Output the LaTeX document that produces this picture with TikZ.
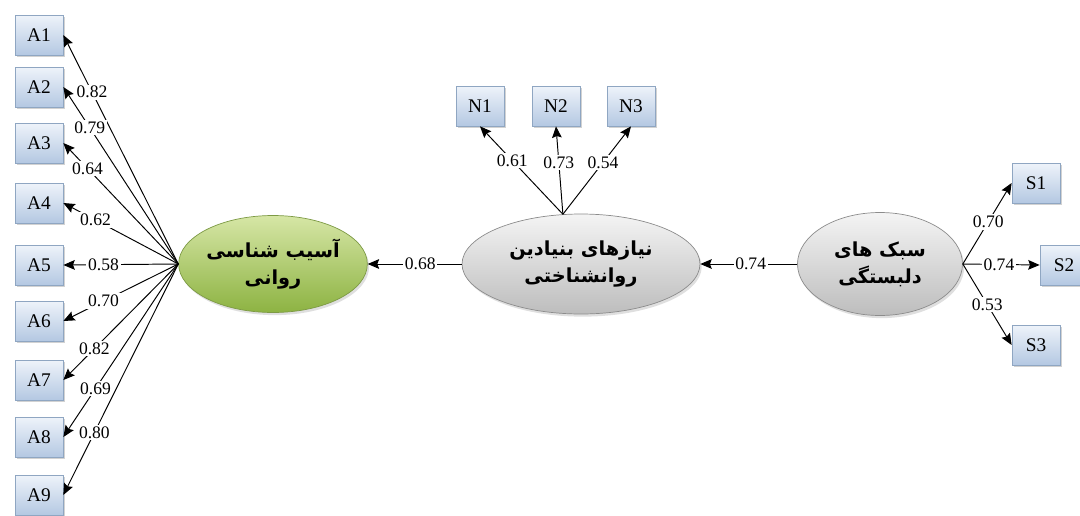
\documentclass[tikz,border=0pt]{standalone}
\usepackage{fontspec}
\setmainfont{Liberation Serif}
\newfontfamily\arabicfont[Script=Arabic]{DejaVu Sans}
\TeXXeTstate=1
\usepackage{tikz}
\usetikzlibrary{shapes.geometric,arrows.meta,shadows}

\definecolor{boxtop}{HTML}{EEF3FA}
\definecolor{boxbot}{HTML}{B4C8E2}
\definecolor{boxline}{HTML}{8FA6C2}
\definecolor{greentop}{HTML}{D6E6A6}
\definecolor{greenbot}{HTML}{8DB342}
\definecolor{greenline}{HTML}{7D9A45}
\definecolor{graytop}{HTML}{F4F4F4}
\definecolor{graybot}{HTML}{BDBDBD}

\tikzset{
  indbox/.style={rectangle, draw=boxline, line width=0.4pt, top color=boxtop, bottom color=boxbot,
    minimum width=0.96cm, minimum height=0.8cm, inner sep=0pt,
    drop shadow={shadow xshift=1.2pt, shadow yshift=-1.2pt, fill=black!35},
    font=\fontsize{11}{13}\selectfont},
  latent/.style={ellipse, draw=black!45, line width=0.4pt, inner sep=0pt, align=center,
    drop shadow={shadow xshift=1pt, shadow yshift=-1.5pt, fill=black!25},
    font=\arabicfont\bfseries\fontsize{11}{15.5}\selectfont},
  arr/.style={-{Stealth[length=6.5pt,width=5.5pt,inset=1pt]}, line width=0.55pt},
  lbl/.style={fill=white, inner sep=1pt, font=\fontsize{10}{12}\selectfont}
}

\begin{document}
\begin{tikzpicture}[x=0.02cm,y=-0.02cm]
\useasboundingbox (0,0) rectangle (1080,515);

\node[indbox] (A1) at (39,35) {A1};
\node[indbox] (A2) at (39,87) {A2};
\node[indbox] (A3) at (39,143) {A3};
\node[indbox] (A4) at (39,203) {A4};
\node[indbox] (A5) at (39,265) {A5};
\node[indbox] (A6) at (39,321) {A6};
\node[indbox] (A7) at (39,380) {A7};
\node[indbox] (A8) at (39,437) {A8};
\node[indbox] (A9) at (39,495) {A9};

\node[indbox] (N1) at (480,106) {N1};
\node[indbox] (N2) at (556,106) {N2};
\node[indbox] (N3) at (631,106) {N3};

\node[indbox] (S1) at (1036,183) {S1};
\node[indbox] (S2) at (1064,265) {S2};
\node[indbox] (S3) at (1036,345) {S3};

% latent variables
\node[latent, minimum width=3.74cm, minimum height=1.94cm, draw=greenline, top color=greentop, bottom color=greenbot]
  (psy) at (273,264) {\beginR آسیب شناسی\endR\\\beginR روانی\endR};
\node[latent, minimum width=4.76cm, minimum height=2cm, top color=graytop, bottom color=graybot]
  (need) at (581,264) {\beginR نیازهای بنیادین\endR\\\beginR روانشناختی\endR};
\node[latent, minimum width=3.3cm, minimum height=2.06cm, top color=graytop, bottom color=graybot]
  (att) at (880,264) {\beginR سبک های\endR\\\beginR دلبستگی\endR};

\draw[arr] (psy.west) -- node[lbl,pos=0.75] {0.82} (A1.east);
\draw[arr] (psy.west) -- node[lbl,pos=0.77] {0.79} (A2.east);
\draw[arr] (psy.west) -- node[lbl,pos=0.79] {0.64} (A3.east);
\draw[arr] (psy.west) -- node[lbl,pos=0.72] {0.62} (A4.east);
\draw[arr] (psy.west) -- node[lbl,pos=0.65] {0.58} (A5.east);
\draw[arr] (psy.west) -- node[lbl,pos=0.65] {0.70} (A6.east);
\draw[arr] (psy.west) -- node[lbl,pos=0.73] {0.82} (A7.east);
\draw[arr] (psy.west) -- node[lbl,pos=0.72] {0.69} (A8.east);
\draw[arr] (psy.west) -- node[lbl,pos=0.73] {0.80} (A9.east);

\draw[arr] (need.110) -- node[lbl,pos=0.61] {0.61} (N1.south);
\draw[arr] (need.110) -- node[lbl,pos=0.59] {0.73} (N2.south);
\draw[arr] (need.110) -- node[lbl,pos=0.59] {0.54} (N3.south);

\draw[arr] (att.east) -- node[lbl,pos=0.52] {0.70} (S1.west);
\draw[arr] (att.east) -- node[lbl,pos=0.47] {0.74} (S2.west);
\draw[arr] (att.east) -- node[lbl,pos=0.5] {0.53} (S3.west);

\draw[arr] (need.west) -- node[lbl,pos=0.44] {0.68} (psy.east);
\draw[arr] (att.west) -- node[lbl,pos=0.48] {0.74} (need.east); % structural paths
\end{tikzpicture}
\end{document}
